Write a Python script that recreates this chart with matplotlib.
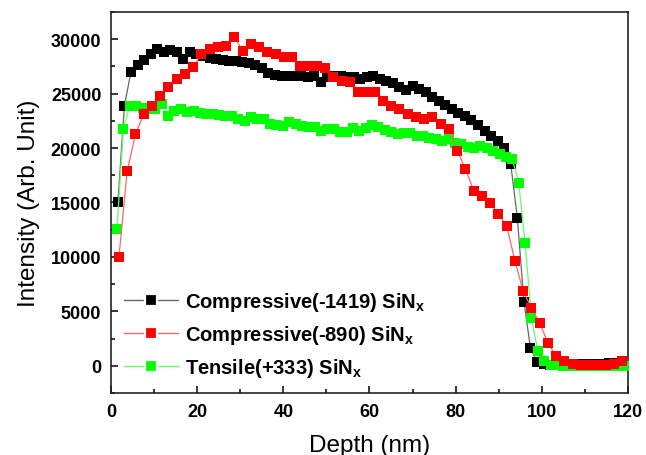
import numpy as np
import matplotlib
matplotlib.use("Agg")
import matplotlib.pyplot as plt
from matplotlib.lines import Line2D
from matplotlib.ticker import MultipleLocator

plt.rcParams['font.family'] = ['Liberation Sans', 'DejaVu Sans']

# depth grids (nm) - each profile was sampled a bit differently
depth_c1419 = np.linspace(1.6, 1.6 + 1.52 * 77, 78)
depth_c890 = np.linspace(1.85, 1.85 + 1.915 * 61, 62)
depth_t333 = np.linspace(1.4, 1.4 + 1.48 * 80, 81)

int_c1419 = [15000, 23900, 27000, 27600, 28100, 28650, 29100, 28800, 29000, 28800,
             28200, 28800, 28600, 28500, 28300, 28150, 28100, 28030, 28030, 27950,
             27800, 27650, 27350, 26900, 26700, 26650, 26650, 26650, 26650, 26550,
             26600, 26100, 26500, 26650, 26600, 26550, 26500, 26350, 26500, 26650,
             26300, 26150, 26000, 25650, 25300, 25730, 25420, 25110, 24700, 24300,
             24000, 23550, 23250, 22950, 22600, 22150, 21550, 21100, 20650, 20050,
             18500, 13600, 5900, 1650, 370, 150, 100, 80, 80, 100,
             120, 150, 150, 180, 200, 220, 250, 280]

int_c890 = [10000, 17900, 21280, 23120, 23880, 24800, 25580, 26340, 26800, 27420,
            28640, 29100, 29260, 29400, 30180, 28950, 29560, 29260, 28800, 28640,
            28330, 28330, 27570, 27570, 27500, 27400, 26500, 26190, 26040, 25110,
            25110, 25110, 24340, 23880, 23580, 23120, 22810, 22660, 22810, 22200,
            21740, 19740, 18100, 16060, 15600, 14980, 13910, 12830, 9610, 6840,
            5310, 3930, 2090, 860, 400, 150, 100, 100, 80, 100,
            150, 400]

int_t333 = [12600, 21740, 23880, 23880, 23640, 23580, 23600, 24040, 22960, 23400,
            23580, 23270, 23420, 23250, 23120, 23100, 23000, 22960, 22960, 22700,
            22500, 22810, 22700, 22660, 22200, 22100, 22040, 22350, 22200, 22000,
            21890, 21890, 21600, 21740, 21740, 21450, 21430, 21800, 21600, 21850,
            22100, 21950, 21650, 21450, 21300, 21400, 21400, 21120, 21100, 20970,
            20810, 20660, 20800, 20500, 20350, 20100, 20050, 20200, 20000, 19700,
            19500, 19150, 18950, 16830, 11240, 4390, 1320, 400, 100, 30,
            0, 0, 0, 0, 0, 0, 0, 0, 0, 0,
            0]

labels = ['Compressive(-1419) SiN$_\\mathregular{x}$',
          'Compressive(-890) SiN$_\\mathregular{x}$',
          'Tensile(+333) SiN$_\\mathregular{x}$']
line_cols = ['#666666', '#ff6666', '#66ff66']
mark_cols = ['black', '#ff0000', '#00ff00']

fig = plt.figure(figsize=(6.46, 4.56), dpi=100)
ax = fig.add_axes([0.1718, 0.136, 0.8003, 0.8355])

ms = 7
ax.plot(depth_c1419, int_c1419, '-s', color=line_cols[0], lw=0.9, ms=ms,
        mfc=mark_cols[0], mec=mark_cols[0], mew=0, zorder=3)
ax.plot(depth_t333, int_t333, '-s', color=line_cols[2], lw=0.9, ms=ms,
        mfc=mark_cols[2], mec=mark_cols[2], mew=0, zorder=4)
ax.plot(depth_c890, int_c890, '-s', color=line_cols[1], lw=0.9, ms=ms,
        mfc=mark_cols[1], mec=mark_cols[1], mew=0, zorder=5)

ax.set_xlim(0, 120)
ax.set_ylim(-2500, 32500)
ax.xaxis.set_major_locator(MultipleLocator(20))
ax.xaxis.set_minor_locator(MultipleLocator(10))
ax.yaxis.set_major_locator(MultipleLocator(5000))
ax.yaxis.set_minor_locator(MultipleLocator(2500))
ax.tick_params(which='both', direction='in', top=False, right=False, width=1.1)
ax.tick_params(which='major', length=5, labelsize=13, pad=7)
ax.tick_params(which='minor', length=3)
for lab in ax.get_xticklabels() + ax.get_yticklabels():
    lab.set_fontweight('bold')
for s in ax.spines.values():
    s.set_linewidth(1.2)
    s.set_color('#222222')

ax.set_xlabel('Depth (nm)', fontsize=17.5, labelpad=10)
ax.set_ylabel('Intensity (Arb. Unit)', fontsize=17.5, labelpad=8)

# legend handles: white edge gives the small gap around the marker
handles = [Line2D([], [], color=lc, lw=1.0, marker='s', ms=8.5, mfc=mc,
                  mec='white', mew=1.6) for lc, mc in zip(line_cols, mark_cols)]
ax.legend(handles, labels, loc='upper left', bbox_to_anchor=(0.025, 0.27),
          frameon=False, borderpad=0, borderaxespad=0, handlelength=2.7,
          handletextpad=0.35, labelspacing=0.5, numpoints=1,
          prop={'size': 14.5, 'weight': 'bold'})

fig.savefig('out.png', dpi=100)
